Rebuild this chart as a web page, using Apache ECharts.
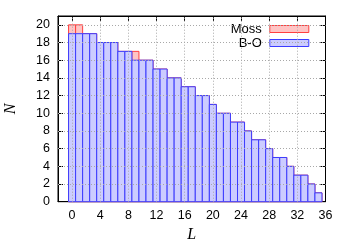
<!DOCTYPE html>
<html><head><meta charset="utf-8">
<script src="https://cdn.jsdelivr.net/npm/echarts@6/dist/echarts.min.js"></script>
<style>html,body{margin:0;padding:0;background:#fff}#c{width:350px;height:245px}</style>
</head><body><div id="c"></div>
<script>
const L_VALUES = [0,1,2,3,4,5,6,7,8,9,10,11,12,13,14,15,16,17,18,19,20,21,22,23,24,25,26,27,28,29,30,31,32,33,34,35];
const MOSS = [20,20,19,19,18,18,18,17,17,17,16,16,15,15,14,14,13,13,12,12,11,10,10,9,9,8,7,7,6,5,5,4,3,3,2,1];
const BO   = [19,19,19,19,18,18,18,17,17,16,16,16,15,15,14,14,13,13,12,12,11,10,10,9,9,8,7,7,6,5,5,4,3,3,2,1];
const X_TICKS = [0,4,8,12,16,20,24,28,32,36];
const Y_TICKS = [0,2,4,6,8,10,12,14,16,18,20];

const MOSS_FILL = '#ffc4c4', MOSS_STROKE = '#ff4040';
const BO_FILL = '#ccccff', BO_STROKE = '#3c3cff';
const FONT = 'Liberation Sans, Arial, sans-serif';

function barRenderer(fill, stroke){
  return function(params, api){
    const L = api.value(0), N = api.value(1);
    const p0 = api.coord([L - 0.5, N]);
    const p1 = api.coord([L + 0.5, 0]);
    return {type:'rect', shape:{x:p0[0], y:p0[1], width:p1[0]-p0[0], height:p1[1]-p0[1]},
      style:{fill:fill, stroke:stroke, lineWidth:1}};
  };
}

const gridStyle = {color:'#a8a8a8', type:[1,2], width:1};
const gridMarks = X_TICKS.filter(v=>v>-2 && v<36).map(v=>({xAxis:v}))
  .concat(Y_TICKS.filter(v=>v>0 && v<21).map(v=>({yAxis:v})));

const chart = echarts.init(document.getElementById('c'), null, {renderer:'canvas'});
chart.setOption({
  animation:false,
  grid:{left:58, right:24.5, top:16, bottom:43.3, outerBoundsMode:'none', containLabel:false,
    show:true, borderColor:'#000', borderWidth:1, backgroundColor:'transparent'},
  legend:{
    orient:'vertical', right:40.7, top:22, padding:0, align:'right', itemGap:0,
    itemWidth:39, itemHeight:7,
    textStyle:{fontFamily:FONT, fontSize:13, color:'#000', lineHeight:14, padding:[0,3,0,0]},
    data:[
      {name:'Moss', icon:'rect', itemStyle:{color:MOSS_FILL, borderColor:MOSS_STROKE, borderWidth:1}},
      {name:'B-O', icon:'rect', itemStyle:{color:BO_FILL, borderColor:BO_STROKE, borderWidth:1}}
    ]
  },
  xAxis:[{
    type:'value', min:-2, max:36, position:'bottom',
    name:'L', nameLocation:'middle', nameGap:25,
    nameTextStyle:{fontFamily:'Liberation Serif, Times New Roman, serif', fontStyle:'italic', fontSize:16, color:'#000'},
    axisLine:{show:true, onZero:false, lineStyle:{color:'#000'}},
    axisTick:{show:true, inside:true, length:5, customValues:X_TICKS, lineStyle:{color:'#000'}},
    axisLabel:{customValues:X_TICKS, margin:7, fontFamily:FONT, fontSize:12.5, color:'#000'},
    splitLine:{show:false}
  },{
    type:'value', min:-2, max:36, position:'top',
    axisLine:{show:true, onZero:false, lineStyle:{color:'#000'}},
    axisTick:{show:true, inside:true, length:5, customValues:X_TICKS, lineStyle:{color:'#000'}},
    axisLabel:{show:false}, splitLine:{show:false}
  }],
  yAxis:[{
    type:'value', min:0, max:21, position:'left',
    name:'N', nameLocation:'middle', nameGap:39, nameRotate:90,
    nameTextStyle:{fontFamily:'Liberation Serif, Times New Roman, serif', fontStyle:'italic', fontSize:16, color:'#000'},
    axisLine:{show:true, onZero:false, lineStyle:{color:'#000'}},
    axisTick:{show:true, inside:true, length:5, customValues:Y_TICKS, lineStyle:{color:'#000'}},
    axisLabel:{customValues:Y_TICKS, margin:8, fontFamily:FONT, fontSize:12.5, color:'#000'},
    splitLine:{show:false}
  },{
    type:'value', min:0, max:21, position:'right',
    axisLine:{show:true, onZero:false, lineStyle:{color:'#000'}},
    axisTick:{show:true, inside:true, length:5, customValues:Y_TICKS, lineStyle:{color:'#000'}},
    axisLabel:{show:false}, splitLine:{show:false}
  }],
  series:[
    {name:'grid', type:'line', data:[], z:1, silent:true,
      markLine:{silent:true, symbol:'none', label:{show:false}, lineStyle:gridStyle, animation:false, data:gridMarks}},
    {name:'Moss', type:'custom', xAxisIndex:0, yAxisIndex:0, z:2,
      itemStyle:{color:MOSS_FILL, borderColor:MOSS_STROKE},
      renderItem:barRenderer(MOSS_FILL, MOSS_STROKE),
      data:L_VALUES.map((l,i)=>[l, MOSS[i]])},
    {name:'B-O', type:'custom', xAxisIndex:0, yAxisIndex:0, z:3,
      itemStyle:{color:BO_FILL, borderColor:BO_STROKE},
      renderItem:barRenderer(BO_FILL, BO_STROKE),
      data:L_VALUES.map((l,i)=>[l, BO[i]])}
  ]
});
</script></body></html>
